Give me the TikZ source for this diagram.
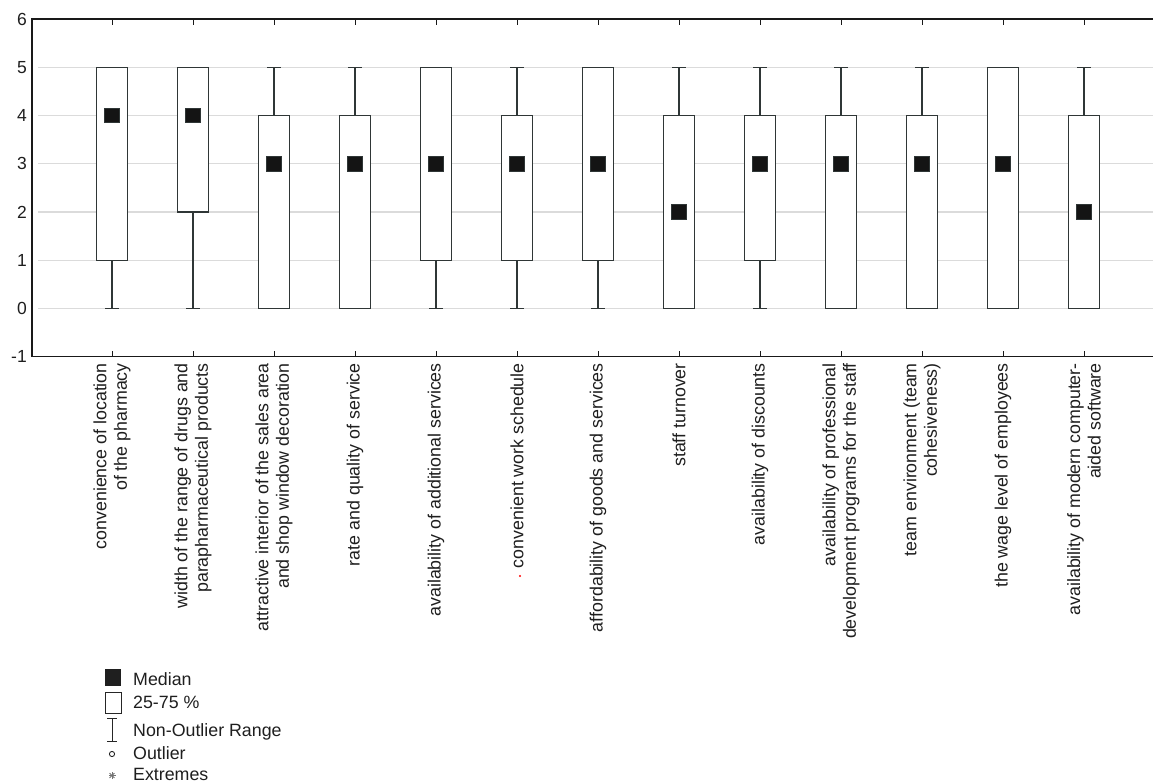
\documentclass[tikz,border=0pt]{standalone}
\usepackage{fontspec}
\setmainfont{Liberation Sans}
\usetikzlibrary{positioning}
\definecolor{boxline}{HTML}{2F3636}
\definecolor{inkgray}{HTML}{1E1E1E}

\tikzset{
  frameline/.style={draw=black!90, line width=1.3pt},
  gridline/.style={draw=black!14, line width=1.2pt},
  iqrbox/.style={draw=boxline, fill=white, line width=1.2pt},
  whisker/.style={draw=boxline, line width=1.2pt},
  medmark/.style={rectangle, fill=black!92, draw=boxline, line width=0.6pt, minimum size=14.5pt, inner sep=0pt},
  ticklab/.style={anchor=east, inner sep=0pt, text=inkgray, font=\fontsize{17.5}{20}\selectfont},
  catlab/.style={rotate=90, anchor=east, align=right, inner sep=0pt, text=inkgray, font=\fontsize{17.8}{20.5}\selectfont},
  legtext/.style={anchor=base west, inner sep=0pt, text=inkgray, font=\fontsize{17.8}{20}\selectfont}
}

\begin{document}
\begin{tikzpicture}[x=1pt,y=-1pt]
\useasboundingbox (0,0) rectangle (1153,782);

% plot area, values -1..6
\begin{scope}[shift={(0,308.3)}, y=48.2pt]
\foreach \v in {0,...,5}{
  \draw[gridline] (38,\v) -- (1153,\v);};
\foreach \i/\lo/\qa/\med/\qb/\hi in {1/0/1/4/5/5, 2/0/2/4/5/5, 3/0/0/3/4/5, 4/0/0/3/4/5,
  5/0/1/3/5/5, 6/0/1/3/4/5, 7/0/1/3/5/5, 8/0/0/2/4/5, 9/0/1/3/4/5, 10/0/0/3/4/5,
  11/0/0/3/4/5, 12/0/0/3/5/5, 13/0/0/2/4/5}{
  \pgfmathsetmacro\cx{31+81*\i}
  \draw[whisker] (\cx,\lo) -- (\cx,\hi);
  \draw[whisker] (\cx-7,\lo) -- (\cx+7,\lo);
  \draw[whisker] (\cx-7,\hi) -- (\cx+7,\hi);
  \draw[iqrbox] (\cx-15.5,\qa) rectangle (\cx+15.5,\qb);
  \node[medmark] (med\i) at (\cx,\med) {};
};
\foreach \v in {-1,...,6}{
  \node[ticklab] (y\v) at (27,\v) {\v};};
\end{scope}

% axes
\draw[frameline] (1153,19) -- (32,19) -- (32,356.5) -- (1153,356.5);
\foreach \i in {1,...,13}{
  \pgfmathsetmacro\cx{31+81*\i}
  \draw[frameline, line width=1pt] (\cx,19) -- (\cx,25);
  \draw[frameline, line width=1pt] (\cx,356.5) -- (\cx,350.5);
};

% category labels
\foreach \i/\txt in {1/{convenience of location\\of the pharmacy},
  2/{width of the range of drugs and\\parapharmaceutical products},
  3/{attractive interior of the sales area\\and shop window decoration},
  4/{rate and quality of service},
  5/{availability of additional services},
  6/{convenient work schedule},
  7/{affordability of goods and services},
  8/{staff turnover},
  9/{availability of discounts},
  10/{availability of professional\\development programs for the staff},
  11/{team environment (team\\cohesiveness)},
  12/{the wage level of employees},
  13/{availability of modern computer-\\aided software}}{
  \pgfmathsetmacro\cx{31+81*\i}
  \node[catlab] (cat\i) at (\cx,363) {\txt};
};
\fill[red] (520,576) circle (1.1);

% legend
\node[legtext] (lmed) at (133,685) {Median};
\node[legtext] (lbox) at (133,708) {25-75 \%};
\node[legtext] (lrng) at (133,736) {Non-Outlier Range};
\node[legtext] (lout) at (133,759) {Outlier};
\node[legtext] (lext) at (133,780) {Extremes};
\fill[black!88] (105,669) rectangle (121,686);
\draw[black!85, line width=1pt] (105,692) rectangle (121,713);
\draw[black!85, line width=1pt] (112,718) -- (112,741) (107,718) -- (117,718) (107,741) -- (117,741);
\draw[black!85, line width=0.9pt] (112,754) circle (2.6);
\foreach \a in {0,45,90,135}{
  \draw[black!55, line width=0.8pt] (112,775.5) ++(\a:3.5) -- ++(\a+180:7);};
\end{tikzpicture}
\end{document}
